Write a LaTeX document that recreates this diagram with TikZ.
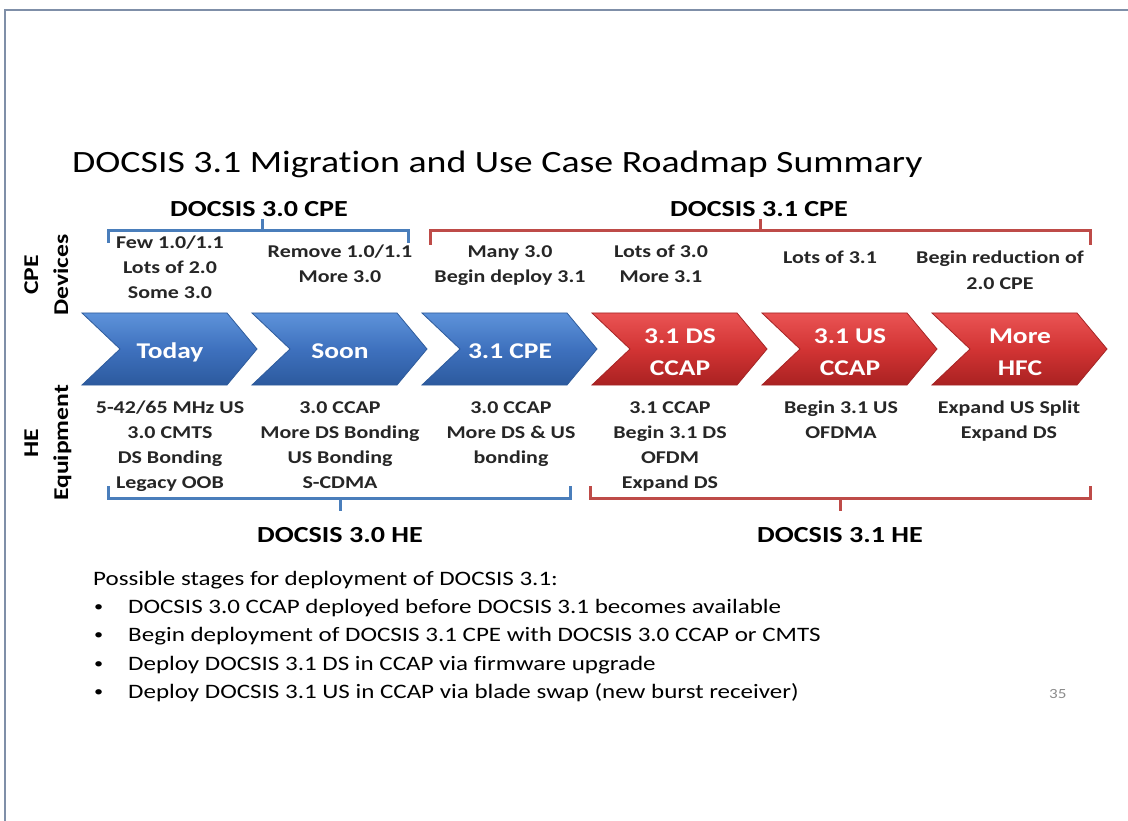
\documentclass[tikz,border=0pt]{standalone}
\usepackage{fontspec}
\setmainfont{Carlito}[FakeStretch=1.22, Ligatures=NoCommon]
\definecolor{framec}{HTML}{7F8FA8}
\definecolor{bbr}{HTML}{4A7EBB}
\definecolor{rbr}{HTML}{BE4B48}
\definecolor{txt}{HTML}{262626}
\definecolor{btop}{HTML}{5E93DA}
\definecolor{bmid}{HTML}{3E71BE}
\definecolor{bbot}{HTML}{2C5A9E}
\definecolor{bedge}{HTML}{2F5C9C}
\definecolor{rtop}{HTML}{EA5454}
\definecolor{rmid}{HTML}{D23434}
\definecolor{rbot}{HTML}{AA2222}
\definecolor{redge}{HTML}{A52525}
\begin{document}
\begin{tikzpicture}[x=1pt,y=-1pt,
  col/.style={font=\bfseries\fontsize{18}{22}\selectfont, text=txt, anchor=base, inner sep=0pt},
  hdr/.style={font=\bfseries\fontsize{23}{27}\selectfont, text=black, anchor=base, inner sep=0pt},
  side/.style={font=\bfseries\fontsize{21}{24}\selectfont, text=black, anchor=base, inner sep=0pt, rotate=90},
  chevtxt/.style={font=\bfseries\fontsize{22.5}{31}\selectfont, text=white, anchor=base, inner sep=0pt},
  body/.style={font=\fontsize{20.5}{24}\selectfont, text=black, anchor=base west, inner sep=0pt},
  bluechev/.style={top color=btop, bottom color=bbot, middle color=bmid, draw=bedge, line width=0.8pt},
  redchev/.style={top color=rtop, bottom color=rbot, middle color=rmid, draw=redge, line width=0.8pt},
  bluebr/.style={draw=bbr, line width=3pt},
  redbr/.style={draw=rbr, line width=3pt},
  frameline/.style={draw=framec, line width=2pt}]
\useasboundingbox (0,0) rectangle (1128,821);
\fill[white] (0,0) rectangle (1128,821);
\draw[frameline] (5,821) -- (5,10) -- (1128,10);

% title
\node[font=\fontsize{31}{36}\selectfont, anchor=base west, inner sep=0pt] (title) at (72,173) {DOCSIS 3.1 Migration and Use Case Roadmap Summary};

% headers
\node[hdr] (h30cpe) at (259,217) {DOCSIS 3.0 CPE};
\node[hdr] (h31cpe) at (759,217) {DOCSIS 3.1 CPE};
\node[hdr] (h30he) at (340,542) {DOCSIS 3.0 HE};
\node[hdr] (h31he) at (840,542) {DOCSIS 3.1 HE};

% brackets
\draw[bluebr] (108,243) -- (108,231) -- (408,231) -- (408,243);
\draw[bluebr] (262,231) -- (262,219);
\draw[redbr] (430,245) -- (430,231) -- (1090,231) -- (1090,245);
\draw[redbr] (760,231) -- (760,219);
\draw[bluebr] (108,486) -- (108,498) -- (570,498) -- (570,486);
\draw[bluebr] (340,498) -- (340,511);
\draw[redbr] (590,486) -- (590,498) -- (1090,498) -- (1090,486);
\draw[redbr] (840,498) -- (840,511);

% side labels
\node[side] (cpe) at (38,275) {CPE};
\node[side] (dev) at (68,275) {Devices};
\node[side] (he) at (38,443) {HE};
\node[side] (equ) at (68,443) {Equipment};

% chevrons
\foreach \i/\st in {0/bluechev,1/bluechev,2/bluechev,3/redchev,4/redchev,5/redchev}{
  \path[\st] ({82+170*\i},313) -- ++(145,0) -- ++(30,36) -- ++(-30,36) -- ++(-145,0) -- ++(38,-36) -- cycle;
}
\node[chevtxt] (k1) at (170,358) {Today};
\node[chevtxt] (k2) at (340,358) {Soon};
\node[chevtxt] (k3) at (510,358) {3.1 CPE};
\node[chevtxt] (k4a) at (680,344) {3.1 DS};
\node[chevtxt] (k4b) at (680,375) {CCAP};
\node[chevtxt] (k5a) at (850,344) {3.1 US};
\node[chevtxt] (k5b) at (850,375) {CCAP};
\node[chevtxt] (k6a) at (1020,344) {More};
\node[chevtxt] (k6b) at (1020,375) {HFC};

% CPE device texts
\node[col] (a1) at (170,249) {Few 1.0/1.1};
\node[col] (a2) at (170,274) {Lots of 2.0};
\node[col] (a3) at (170,299) {Some 3.0};
\node[col] (b1) at (340,258) {Remove 1.0/1.1};
\node[col] (b2) at (340,283) {More 3.0};
\node[col] (c1) at (510,258) {Many 3.0};
\node[col] (c2) at (510,283) {Begin deploy 3.1};
\node[col] (d1) at (661,258) {Lots of 3.0};
\node[col] (d2) at (661,283) {More 3.1};
\node[col] (e1) at (830,264) {Lots of 3.1};
\node[col] (f1) at (1000,264) {Begin reduction of};
\node[col] (f2) at (1000,290) {2.0 CPE};

% HE equipment texts
\node[col] (g1) at (170,413) {5-42/65 MHz US};
\node[col] (g2) at (170,438) {3.0 CMTS};
\node[col] (g3) at (170,463) {DS Bonding};
\node[col] (g4) at (170,488) {Legacy OOB};
\node[col] (m1) at (340,413) {3.0 CCAP};
\node[col] (m2) at (340,438) {More DS Bonding};
\node[col] (m3) at (340,463) {US Bonding};
\node[col] (m4) at (340,488) {S-CDMA};
\node[col] (n1) at (511,413) {3.0 CCAP};
\node[col] (n2) at (511,438) {More DS \& US};
\node[col] (n3) at (511,463) {bonding};
\node[col] (p1) at (670,413) {3.1 CCAP};
\node[col] (p2) at (670,438) {Begin 3.1 DS};
\node[col] (p3) at (670,463) {OFDM};
\node[col] (p4) at (670,488) {Expand DS};
\node[col] (q1) at (841,413) {Begin 3.1 US};
\node[col] (q2) at (841,438) {OFDMA};
\node[col] (r1) at (1009,413) {Expand US Split};
\node[col] (r2) at (1009,438) {Expand DS};

% bottom text
\node[body] (s0) at (93,585) {Possible stages for deployment of DOCSIS 3.1:};
\node[body, font=\fontsize{15}{18}\selectfont] (u1) at (94,611) {•};
\node[body] (s1) at (128,613) {DOCSIS 3.0 CCAP deployed before DOCSIS 3.1 becomes available};
\node[body, font=\fontsize{15}{18}\selectfont] (u2) at (94,639) {•};
\node[body] (s2) at (128,641) {Begin deployment of DOCSIS 3.1 CPE with DOCSIS 3.0 CCAP or CMTS};
\node[body, font=\fontsize{15}{18}\selectfont] (u3) at (94,668) {•};
\node[body] (s3) at (128,670) {Deploy DOCSIS 3.1 DS in CCAP via firmware upgrade};
\node[body, font=\fontsize{15}{18}\selectfont] (u4) at (94,696) {•};
\node[body] (s4) at (128,698) {Deploy DOCSIS 3.1 US in CCAP via blade swap (new burst receiver)};
\node[font=\fontsize{14}{16}\selectfont, text=black!45, anchor=base west, inner sep=0pt] (pg) at (1049,698) {35};
\end{tikzpicture}
\end{document}
